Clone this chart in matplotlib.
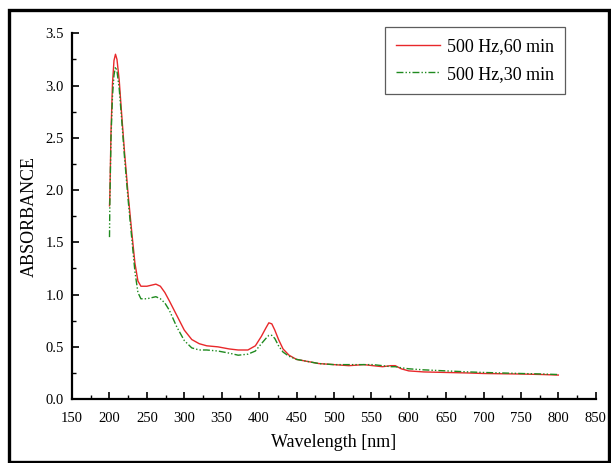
import matplotlib.pyplot as plt
from matplotlib.patches import Rectangle
from matplotlib.ticker import MultipleLocator

# wavelength [nm] and absorbance
wl_60 = [200, 200.5, 202, 204, 206, 208, 210, 213, 216, 220, 225, 230, 234, 238,
         242, 250, 256, 262, 268, 274, 280, 290, 300, 310, 320, 330, 345, 360,
         372, 385, 395, 403, 409, 413, 417, 421, 426, 432, 440, 450, 465, 480,
         500, 520, 540, 552, 565, 576, 582, 590, 600, 620, 650, 680, 700, 750,
         780, 800]
abs_60 = [1.85, 1.95, 2.55, 3.02, 3.24, 3.30, 3.25, 3.05, 2.75, 2.37, 1.95, 1.58,
          1.30, 1.13, 1.08, 1.08, 1.09, 1.10, 1.08, 1.02, 0.94, 0.80, 0.66, 0.57,
          0.53, 0.51, 0.50, 0.48, 0.47, 0.47, 0.51, 0.60, 0.68, 0.73, 0.72, 0.66,
          0.57, 0.48, 0.42, 0.38, 0.36, 0.34, 0.33, 0.32, 0.33, 0.32, 0.31, 0.32,
          0.32, 0.29, 0.27, 0.26, 0.255, 0.25, 0.245, 0.24, 0.235, 0.23]

wl_30 = [200, 200.5, 202, 204, 206, 208, 210, 213, 216, 220, 225, 230, 234, 238,
         242, 250, 256, 262, 268, 274, 280, 290, 300, 310, 320, 330, 345, 360,
         372, 385, 395, 403, 409, 413, 417, 421, 426, 432, 440, 450, 465, 480,
         500, 520, 540, 552, 565, 576, 582, 590, 600, 620, 650, 680, 700, 750,
         780, 800]
abs_30 = [1.55, 1.90, 2.50, 2.90, 3.10, 3.18, 3.14, 2.97, 2.70, 2.32, 1.90, 1.52,
          1.22, 1.02, 0.96, 0.96, 0.97, 0.98, 0.96, 0.92, 0.85, 0.69, 0.56, 0.49,
          0.47, 0.47, 0.46, 0.44, 0.42, 0.43, 0.46, 0.53, 0.58, 0.61, 0.61, 0.58,
          0.51, 0.45, 0.41, 0.38, 0.36, 0.34, 0.33, 0.33, 0.33, 0.33, 0.32, 0.31,
          0.31, 0.30, 0.29, 0.28, 0.27, 0.26, 0.255, 0.245, 0.24, 0.235]

label_60 = "500 Hz,60 min"
label_30 = "500 Hz,30 min"

plt.rcParams["font.family"] = ["Liberation Serif", "DejaVu Serif"]

fig = plt.figure(figsize=(6.11, 4.63), dpi=100)
ax = fig.add_axes([0.118, 0.138, 0.857, 0.79])

ax.plot(wl_60, abs_60, color="#e8282a", lw=1.0, label=label_60)
ax.plot(wl_30, abs_30, color="#1f8a1f", lw=1.0,
        dashes=(5, 1.5, 1, 1.5, 1, 1.5), label=label_30)

ax.set_xlim(150, 850)
ax.set_ylim(0, 3.5)
ax.xaxis.set_major_locator(MultipleLocator(50))
ax.xaxis.set_minor_locator(MultipleLocator(25))
ax.yaxis.set_major_locator(MultipleLocator(0.5))
ax.yaxis.set_minor_locator(MultipleLocator(0.25))
ax.yaxis.set_major_formatter(plt.FuncFormatter(lambda v, p: f"{v:.1f}"))

for side in ("top", "right"):
    ax.spines[side].set_visible(False)
for side in ("left", "bottom"):
    ax.spines[side].set_linewidth(1.6)

ax.tick_params(which="major", direction="in", length=5, width=1.2, labelsize=10.5)
ax.tick_params(which="minor", direction="in", length=3, width=1.0)
ax.tick_params(axis="x", which="major", pad=9)
ax.tick_params(axis="y", which="major", pad=6)

ax.set_xlabel("Wavelength [nm]", fontsize=13, labelpad=7)
ax.set_ylabel("ABSORBANCE", fontsize=13, labelpad=5)

leg = ax.legend(loc="upper right", bbox_to_anchor=(0.958, 1.042), fontsize=13,
                frameon=True, fancybox=False, handlelength=2.4, handletextpad=0.4,
                borderpad=0.6, labelspacing=0.6)
leg.get_frame().set_edgecolor("#333333")
leg.get_frame().set_linewidth(0.9)

# thick frame around the whole picture
fig.patches.append(Rectangle((0.0155, 0.003), 0.982, 0.975, transform=fig.transFigure,
                             fill=False, edgecolor="black", lw=2.4))

fig.savefig("out.png", dpi=100)
